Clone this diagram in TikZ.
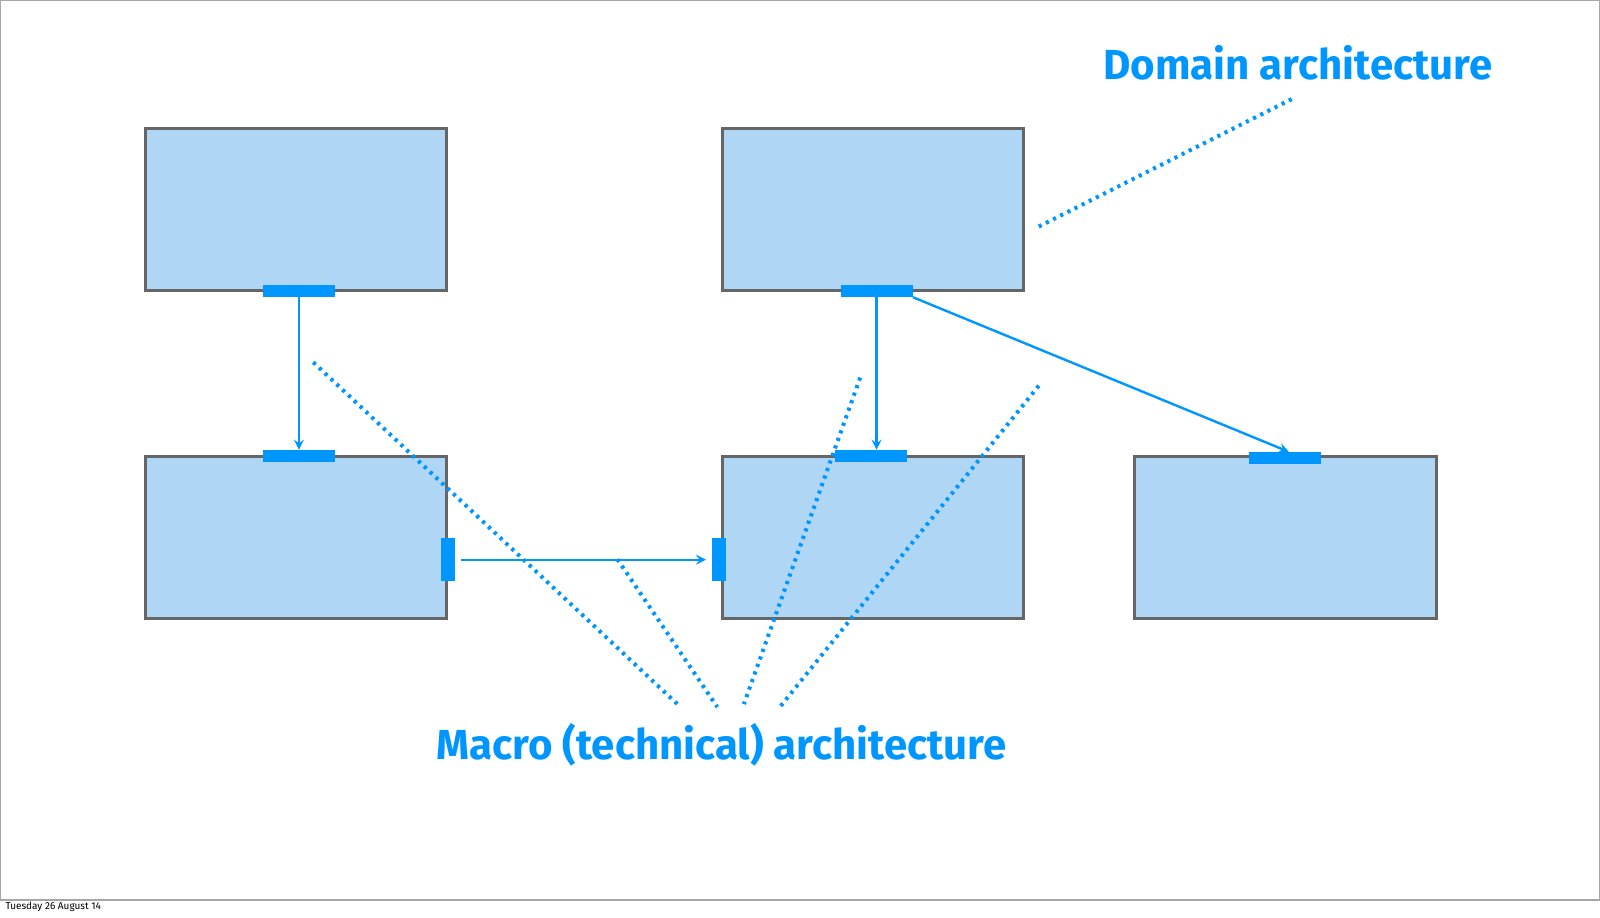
\documentclass[tikz,border=0pt]{standalone}
\usepackage{fontspec}
\setmainfont{Fira Sans}
\begin{document}
\begin{tikzpicture}[x=0.5102pt,y=-0.5102pt,
 box/.style={draw=boxgray,fill=boxfill,line width=1.5pt},
 port/.style={fill=portblue},
 conn/.style={draw=portblue,line width=1.2pt,-stealth},
 dot/.style={draw=portblue,line width=2pt,dash pattern=on 1.6pt off 2.4pt},
 lbl/.style={text=portblue,font=\bfseries\fontsize{21}{25}\selectfont,inner sep=0}]
\definecolor{boxgray}{HTML}{666666}
\definecolor{boxfill}{HTML}{B0D6F5}
\definecolor{portblue}{HTML}{0096FF}
\useasboundingbox (0,0) rectangle (1568,898.7);
\draw[draw=gray!70,line width=0.6pt] (0.5,0.5) rectangle (1567.3,882);
\node[anchor=west,font=\fontsize{5}{6}\selectfont,inner sep=0] (foot) at (5,889) {Tuesday 26 August 14};
\draw[box] (143,126) rectangle (438,285);
\draw[box] (708,126) rectangle (1003,285);
\draw[box] (143,447) rectangle (438,606);
\draw[box] (708,447) rectangle (1003,606);
\draw[box] (1112,447) rectangle (1408,606);
\node[port,minimum width=36pt,minimum height=6pt,inner sep=0] (pa) at (293,285) {};
\node[port,minimum width=36pt,minimum height=6pt,inner sep=0] (pct) at (293,447) {};
\node[port,minimum width=7pt,minimum height=21.5pt,inner sep=0] (pcr) at (439,548.5) {};
\node[port,minimum width=7pt,minimum height=21.5pt,inner sep=0] (pdl) at (705,548.5) {};
\node[port,minimum width=36pt,minimum height=6pt,inner sep=0] (pb) at (859,285) {};
\node[port,minimum width=36pt,minimum height=6pt,inner sep=0] (pdt) at (854,447) {};
\node[port,minimum width=36pt,minimum height=6pt,inner sep=0] (pet) at (1259,449) {};
\draw[conn] (pa.south) -- (pct.north);
\draw[conn] ([xshift=3pt]pcr.east) -- ([xshift=-3pt]pdl.west);
\draw[conn] (pb.south) -- (pb.south |- pdt.north);
\draw[conn] (pb.south east) -- ([xshift=2pt]pet.north);
\node[lbl] (dom) at (1272,62) {Domain architecture};
\node[lbl] (mac) at (707,730) {Macro (technical) architecture};
\coordinate (d1a) at (1018,222); \coordinate (d1b) at (1268,96);
\coordinate (m1a) at (307,355); \coordinate (m1b) at (667,693);
\coordinate (m2a) at (605,548); \coordinate (m2b) at (703,693);
\coordinate (m3a) at (843,370); \coordinate (m3b) at (729,690);
\coordinate (m4a) at (1018,378); \coordinate (m4b) at (765,692);
\draw[dot] (d1a) -- (d1b);
\draw[dot] (m1a) -- (m1b);
\draw[dot] (m2a) -- (m2b);
\draw[dot] (m3a) -- (m3b);
\draw[dot] (m4a) -- (m4b);
\end{tikzpicture}
\end{document}
